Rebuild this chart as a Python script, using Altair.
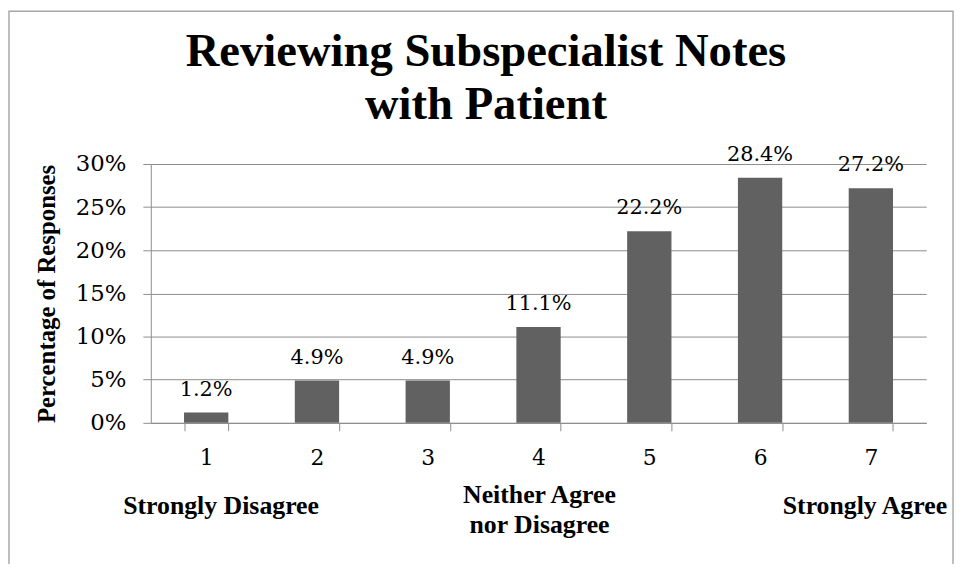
import altair as alt
import pandas as pd

categories = ["1", "2", "3", "4", "5", "6", "7"]
values = [0.012, 0.049, 0.049, 0.111, 0.222, 0.284, 0.272]
y_ticks = [0, 0.05, 0.10, 0.15, 0.20, 0.25, 0.30]
anchor_cats = ["1", "4", "7"]
anchor_texts = ["Strongly Disagree", "Neither Agree\nnor Disagree", "Strongly Agree"]
title_text = "Reviewing Subspecialist Notes\nwith Patient"

df = pd.DataFrame({"cat": categories, "val": values})
ann = pd.DataFrame({"cat": anchor_cats, "t": anchor_texts})
tdf = pd.DataFrame({"t": [title_text]})

W, H = 782, 261
GRID = "#8c8c8c"
SERIF = "Liberation Serif"
LABF = "DejaVu Serif"

x_enc = alt.X("cat:N", sort=categories, title=None,
              scale=alt.Scale(paddingInner=0.6, paddingOuter=0.3),
              axis=alt.Axis(labelAngle=0, labelFont=LABF, labelFontSize=22,
                            labelColor="black", labelPadding=27,
                            labelBaseline="middle",
                            tickBand="extent", tickSize=8, tickColor=GRID,
                            domainColor=GRID, grid=False))
y_enc = alt.Y("val:Q", scale=alt.Scale(domain=[0, 0.30], nice=False),
              axis=alt.Axis(values=y_ticks, format=".0%", labelFont=LABF,
                            labelFontSize=23, labelColor="black", labelPadding=17,
                            tickSize=8, tickColor=GRID, domainColor=GRID,
                            gridColor=GRID, grid=True,
                            title="Percentage of Responses",
                            titleFont=SERIF, titleFontSize=25, titleFontWeight="bold",
                            titleColor="black", titleAngle=270, titleX=-105,
                            titleY=130.5, titleAlign="center", titleBaseline="middle"))

base = alt.Chart(df)
bars = base.mark_bar(color="#616161").encode(x=x_enc, y=y_enc)
labels = base.mark_text(font=LABF, fontSize=21, baseline="alphabetic", dy=-17,
                        color="black").encode(
    x=alt.X("cat:N", sort=categories),
    y="val:Q",
    text=alt.Text("val:Q", format=".1%"))

def ann_layer(cat, dx, yoff):
    return alt.Chart(ann).transform_filter(alt.datum.cat == cat).mark_text(
        font=SERIF, fontSize=26, fontWeight="bold", color="black",
        baseline="middle", lineBreak="\n", lineHeight=30, dx=dx).encode(
        x=alt.X("cat:N", sort=categories), y=alt.value(H + yoff), text="t:N")

title = alt.Chart(tdf).mark_text(
    font=SERIF, fontSize=47, fontWeight="bold", color="black",
    baseline="alphabetic", align="center", lineBreak="\n", lineHeight=54).encode(
    x=alt.value(338), y=alt.value(-99), text="t:N")

border = alt.Chart(tdf).mark_rect(fill=None, stroke="#a8a8a8",
                                  strokeWidth=1.5).encode(
    x=alt.value(-143), x2=alt.value(809), y=alt.value(-154), y2=alt.value(H + 200))

chart = alt.layer(bars, labels, ann_layer("1", 15, 84), ann_layer("4", 1, 73),
                  ann_layer("7", -6, 84), title, border).properties(
    width=W, height=H,
    autosize=alt.AutoSizeParams(type="none"),
    padding={"left": 144, "top": 155, "right": 30, "bottom": 140},
).configure_view(stroke=None).configure_axis(domainWidth=1, tickWidth=1, gridWidth=1)

chart.save("out.html", embed_options={"renderer": "svg", "actions": False})
